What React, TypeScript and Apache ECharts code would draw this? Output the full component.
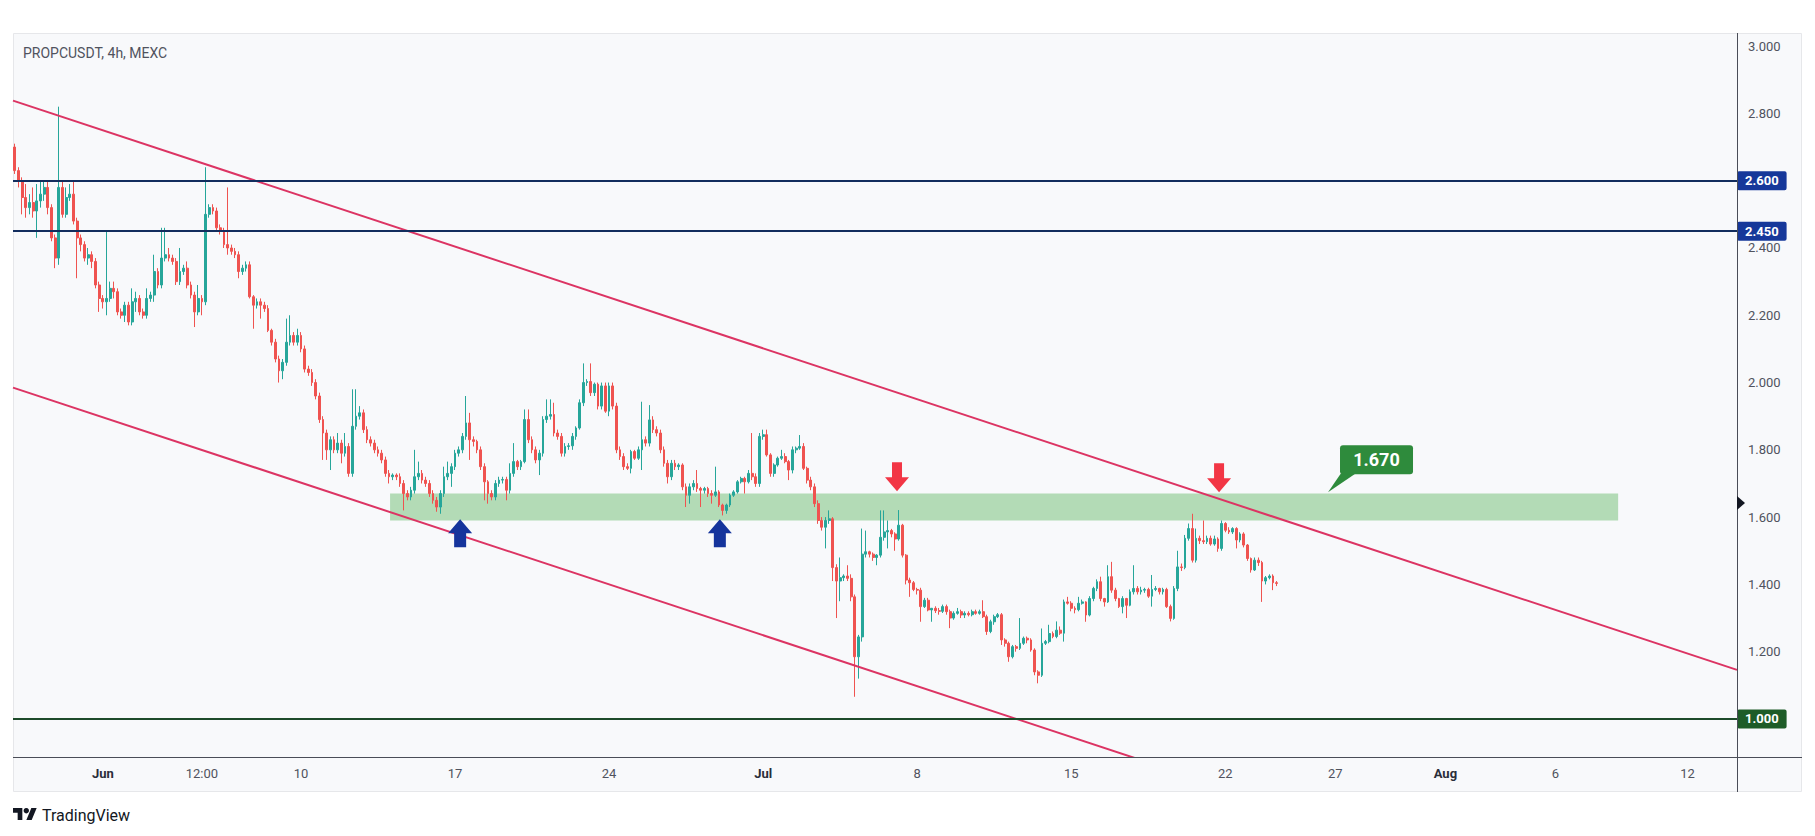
import React, { useEffect, useRef } from 'react';
import * as echarts from 'echarts';

// ---------- data ----------
const startTime = Date.UTC(2024, 4, 28, 0, 0); // first 4h slot: 28 May 2024 00:00
const slotMs = 4 * 3600 * 1000;
const slotCount = 470; // visible 4h slots, incl. empty right margin

// x tick labels: [slot key "MM-DD HH:mm", label]
const xTicks: [string, string][] = [
  ['06-01 00:00', 'Jun'], ['06-05 12:00', '12:00'], ['06-10 00:00', '10'], ['06-17 00:00', '17'],
  ['06-24 00:00', '24'], ['07-01 00:00', 'Jul'], ['07-08 00:00', '8'], ['07-15 00:00', '15'],
  ['07-22 00:00', '22'], ['07-27 00:00', '27'], ['08-01 00:00', 'Aug'], ['08-06 00:00', '6'],
  ['08-12 00:00', '12'],
];
const monthNames = ['Jun', 'Jul', 'Aug'];
const yTicks = [1.0, 1.2, 1.4, 1.6, 1.8, 2.0, 2.2, 2.4, 2.6, 2.8, 3.0];
const yRange = [0.887, 3.039];

// 4h candles [open, close, low, high]
const candles: number[][] = [
  [2.70,2.63,2.62,2.71],[2.63,2.60,2.58,2.64],[2.60,2.55,2.50,2.61],[2.55,2.52,2.49,2.59],[2.52,2.535,2.50,2.56],
  [2.535,2.51,2.49,2.58],[2.51,2.54,2.43,2.59],[2.54,2.56,2.52,2.60],[2.56,2.58,2.54,2.60],[2.58,2.52,2.50,2.60],
  [2.52,2.43,2.42,2.53],[2.43,2.37,2.34,2.44],[2.37,2.58,2.35,2.82],[2.58,2.50,2.49,2.60],[2.50,2.55,2.49,2.58],
  [2.55,2.56,2.54,2.59],[2.56,2.48,2.47,2.60],[2.48,2.43,2.31,2.49],[2.43,2.41,2.39,2.44],[2.41,2.37,2.36,2.42],
  [2.37,2.38,2.35,2.40],[2.38,2.36,2.34,2.39],[2.36,2.29,2.28,2.37],[2.29,2.25,2.21,2.30],[2.25,2.24,2.22,2.26],
  [2.24,2.25,2.20,2.45],[2.25,2.28,2.24,2.30],[2.28,2.27,2.25,2.30],[2.27,2.21,2.20,2.28],[2.21,2.20,2.19,2.22],
  [2.20,2.23,2.18,2.24],[2.23,2.18,2.17,2.24],[2.18,2.24,2.17,2.28],[2.24,2.25,2.21,2.27],[2.25,2.21,2.20,2.26],
  [2.21,2.20,2.19,2.22],[2.20,2.25,2.19,2.28],[2.25,2.26,2.24,2.27],[2.26,2.33,2.24,2.38],[2.33,2.29,2.28,2.34],
  [2.29,2.37,2.28,2.46],[2.37,2.38,2.36,2.46],[2.38,2.37,2.36,2.40],[2.37,2.36,2.35,2.38],[2.36,2.30,2.29,2.37],
  [2.30,2.33,2.29,2.40],[2.33,2.34,2.32,2.35],[2.34,2.29,2.28,2.36],[2.29,2.26,2.25,2.30],[2.26,2.21,2.165,2.27],
  [2.21,2.25,2.20,2.29],[2.25,2.24,2.20,2.26],[2.24,2.50,2.23,2.64],[2.50,2.52,2.49,2.53],[2.52,2.51,2.50,2.53],
  [2.51,2.46,2.45,2.52],[2.46,2.45,2.44,2.47],[2.45,2.41,2.40,2.46],[2.41,2.40,2.38,2.58],[2.40,2.39,2.38,2.41],
  [2.39,2.38,2.37,2.40],[2.38,2.33,2.31,2.39],[2.33,2.34,2.32,2.35],[2.34,2.35,2.33,2.36],[2.35,2.255,2.25,2.36],
  [2.255,2.23,2.16,2.26],[2.23,2.24,2.22,2.25],[2.24,2.23,2.19,2.25],[2.23,2.22,2.21,2.24],[2.22,2.155,2.15,2.23],
  [2.155,2.12,2.11,2.16],[2.12,2.07,2.06,2.13],[2.07,2.035,2.00,2.08],[2.035,2.06,2.01,2.07],[2.06,2.12,2.05,2.19],
  [2.12,2.14,2.11,2.20],[2.14,2.12,2.11,2.15],[2.12,2.14,2.11,2.16],[2.14,2.10,2.09,2.15],[2.10,2.04,2.03,2.11],
  [2.04,2.03,2.02,2.05],[2.03,2.00,1.99,2.04],[2.00,1.96,1.95,2.01],[1.96,1.89,1.88,1.97],[1.89,1.85,1.77,1.90],
  [1.85,1.80,1.77,1.86],[1.80,1.83,1.74,1.84],[1.83,1.80,1.79,1.84],[1.80,1.82,1.79,1.85],[1.82,1.79,1.76,1.83],
  [1.79,1.81,1.78,1.85],[1.81,1.73,1.72,1.82],[1.73,1.87,1.72,1.98],[1.87,1.90,1.86,1.98],[1.90,1.91,1.89,1.93],
  [1.91,1.86,1.85,1.92],[1.86,1.83,1.82,1.87],[1.83,1.82,1.81,1.84],[1.82,1.80,1.79,1.83],[1.80,1.79,1.78,1.81],
  [1.79,1.77,1.76,1.80],[1.77,1.73,1.72,1.78],[1.73,1.72,1.70,1.74],[1.72,1.725,1.71,1.73],[1.725,1.72,1.71,1.73],
  [1.72,1.70,1.69,1.73],[1.70,1.67,1.62,1.71],[1.67,1.66,1.65,1.68],[1.66,1.68,1.65,1.69],[1.68,1.72,1.67,1.80],
  [1.72,1.73,1.71,1.765],[1.73,1.71,1.70,1.74],[1.71,1.70,1.69,1.72],[1.70,1.67,1.66,1.71],[1.67,1.65,1.64,1.68],
  [1.65,1.63,1.616,1.66],[1.63,1.67,1.61,1.68],[1.67,1.72,1.66,1.75],[1.72,1.73,1.71,1.765],[1.73,1.75,1.69,1.76],
  [1.75,1.79,1.74,1.80],[1.79,1.80,1.78,1.81],[1.80,1.84,1.79,1.85],[1.84,1.88,1.83,1.96],[1.88,1.83,1.77,1.91],
  [1.83,1.825,1.81,1.84],[1.825,1.80,1.79,1.83],[1.80,1.75,1.74,1.81],[1.75,1.705,1.65,1.76],[1.705,1.67,1.64,1.71],
  [1.67,1.66,1.65,1.68],[1.66,1.70,1.65,1.71],[1.70,1.71,1.69,1.72],[1.71,1.712,1.70,1.72],[1.712,1.68,1.65,1.72],
  [1.68,1.73,1.67,1.76],[1.73,1.765,1.72,1.82],[1.765,1.75,1.74,1.77],[1.75,1.765,1.74,1.77],[1.765,1.89,1.76,1.92],
  [1.89,1.83,1.82,1.92],[1.83,1.80,1.79,1.84],[1.80,1.77,1.76,1.81],[1.77,1.79,1.725,1.80],[1.79,1.89,1.78,1.90],
  [1.89,1.90,1.88,1.95],[1.90,1.905,1.89,1.95],[1.905,1.85,1.84,1.94],[1.85,1.84,1.83,1.86],[1.84,1.79,1.78,1.85],
  [1.79,1.81,1.78,1.82],[1.81,1.812,1.80,1.82],[1.812,1.84,1.80,1.85],[1.84,1.865,1.83,1.87],[1.865,1.94,1.86,1.95],
  [1.94,2.00,1.93,2.057],[2.00,2.003,1.99,2.01],[2.003,1.97,1.96,2.057],[1.97,1.995,1.96,2.00],[1.995,1.93,1.92,2.00],
  [1.93,1.99,1.92,2.00],[1.99,1.915,1.91,2.00],[1.915,1.99,1.90,2.00],[1.99,1.93,1.92,2.00],[1.93,1.80,1.79,1.94],
  [1.80,1.78,1.77,1.81],[1.78,1.75,1.74,1.79],[1.75,1.745,1.74,1.76],[1.745,1.795,1.73,1.80],[1.795,1.775,1.77,1.80],
  [1.775,1.80,1.77,1.81],[1.80,1.83,1.74,1.943],[1.83,1.82,1.81,1.84],[1.82,1.889,1.81,1.933],[1.889,1.86,1.85,1.90],
  [1.86,1.85,1.84,1.87],[1.85,1.80,1.79,1.86],[1.80,1.76,1.75,1.81],[1.76,1.72,1.70,1.77],[1.72,1.76,1.71,1.77],
  [1.76,1.75,1.74,1.77],[1.75,1.755,1.74,1.76],[1.755,1.69,1.68,1.76],[1.69,1.665,1.63,1.70],[1.665,1.69,1.64,1.70],
  [1.69,1.70,1.68,1.71],[1.70,1.685,1.675,1.74],[1.685,1.68,1.63,1.69],[1.68,1.685,1.67,1.69],[1.685,1.67,1.66,1.69],
  [1.67,1.665,1.64,1.68],[1.665,1.675,1.66,1.75],[1.675,1.636,1.63,1.68],[1.636,1.62,1.605,1.64],[1.62,1.636,1.61,1.64],
  [1.636,1.665,1.63,1.67],[1.665,1.675,1.66,1.68],[1.675,1.705,1.67,1.71],[1.705,1.715,1.70,1.72],[1.715,1.705,1.67,1.72],
  [1.705,1.73,1.70,1.74],[1.73,1.72,1.71,1.85],[1.72,1.70,1.69,1.73],[1.70,1.84,1.69,1.85],[1.84,1.845,1.83,1.86],
  [1.845,1.785,1.78,1.86],[1.785,1.73,1.72,1.79],[1.73,1.755,1.72,1.76],[1.755,1.775,1.75,1.78],[1.775,1.78,1.77,1.80],
  [1.78,1.765,1.76,1.79],[1.765,1.74,1.71,1.77],[1.74,1.80,1.73,1.81],[1.80,1.805,1.79,1.81],[1.805,1.81,1.80,1.844],
  [1.81,1.745,1.74,1.82],[1.745,1.71,1.70,1.75],[1.71,1.69,1.68,1.72],[1.69,1.64,1.63,1.70],[1.64,1.59,1.58,1.65],
  [1.59,1.57,1.56,1.60],[1.57,1.59,1.507,1.60],[1.59,1.595,1.58,1.62],[1.595,1.45,1.41,1.60],[1.45,1.41,1.30,1.46],
  [1.41,1.42,1.35,1.48],[1.42,1.425,1.41,1.43],[1.425,1.418,1.41,1.457],[1.418,1.363,1.35,1.43],[1.363,1.185,1.066,1.37],
  [1.185,1.244,1.12,1.25],[1.244,1.49,1.23,1.566],[1.49,1.497,1.48,1.56],[1.497,1.49,1.48,1.50],[1.49,1.48,1.47,1.495],
  [1.48,1.487,1.457,1.49],[1.487,1.54,1.48,1.62],[1.54,1.556,1.53,1.62],[1.556,1.56,1.507,1.59],[1.56,1.55,1.54,1.565],
  [1.55,1.535,1.50,1.555],[1.535,1.576,1.53,1.621],[1.576,1.487,1.48,1.58],[1.487,1.413,1.40,1.49],[1.413,1.405,1.363,1.42],
  [1.405,1.385,1.38,1.41],[1.385,1.383,1.37,1.39],[1.383,1.334,1.289,1.39],[1.334,1.353,1.33,1.36],[1.353,1.324,1.32,1.36],
  [1.324,1.329,1.289,1.33],[1.329,1.322,1.315,1.335],[1.322,1.320,1.31,1.33],[1.32,1.334,1.315,1.34],[1.334,1.319,1.31,1.34],
  [1.319,1.30,1.27,1.325],[1.30,1.314,1.295,1.32],[1.314,1.319,1.31,1.33],[1.319,1.309,1.30,1.325],[1.309,1.314,1.30,1.32],
  [1.314,1.31,1.305,1.32],[1.31,1.319,1.305,1.325],[1.319,1.314,1.31,1.325],[1.314,1.319,1.31,1.325],[1.319,1.304,1.30,1.353],
  [1.304,1.26,1.25,1.31],[1.26,1.289,1.255,1.295],[1.289,1.304,1.28,1.31],[1.304,1.31,1.30,1.315],[1.31,1.235,1.22,1.315],
  [1.235,1.225,1.215,1.24],[1.225,1.185,1.17,1.23],[1.185,1.215,1.18,1.22],[1.215,1.21,1.20,1.22],[1.21,1.225,1.205,1.30],
  [1.225,1.24,1.22,1.245],[1.24,1.235,1.225,1.245],[1.235,1.205,1.20,1.24],[1.205,1.14,1.13,1.21],[1.14,1.13,1.106,1.145],
  [1.13,1.225,1.125,1.269],[1.225,1.23,1.22,1.235],[1.23,1.254,1.225,1.28],[1.254,1.245,1.24,1.26],[1.245,1.264,1.24,1.29],
  [1.264,1.255,1.25,1.275],[1.255,1.348,1.23,1.355],[1.348,1.344,1.34,1.363],[1.344,1.329,1.32,1.35],[1.329,1.325,1.314,1.335],
  [1.325,1.344,1.32,1.363],[1.344,1.348,1.34,1.355],[1.348,1.309,1.289,1.35],[1.309,1.358,1.305,1.365],[1.358,1.388,1.35,1.393],
  [1.388,1.408,1.38,1.415],[1.408,1.358,1.35,1.423],[1.358,1.348,1.334,1.36],[1.348,1.423,1.345,1.457],[1.423,1.383,1.375,1.467],
  [1.383,1.358,1.35,1.39],[1.358,1.334,1.33,1.36],[1.334,1.358,1.314,1.365],[1.358,1.338,1.30,1.36],[1.338,1.378,1.335,1.385],
  [1.378,1.388,1.37,1.457],[1.388,1.378,1.37,1.395],[1.378,1.383,1.37,1.393],[1.383,1.385,1.375,1.39],[1.385,1.365,1.36,1.39],
  [1.365,1.385,1.334,1.428],[1.385,1.388,1.38,1.395],[1.388,1.378,1.37,1.39],[1.378,1.385,1.37,1.39],[1.385,1.334,1.33,1.39],
  [1.334,1.299,1.29,1.34],[1.299,1.388,1.295,1.395],[1.388,1.452,1.38,1.50],[1.452,1.45,1.44,1.462],[1.45,1.537,1.445,1.547],
  [1.537,1.566,1.53,1.581],[1.566,1.472,1.465,1.61],[1.472,1.537,1.465,1.566],[1.537,1.53,1.52,1.545],[1.53,1.527,1.52,1.59],
  [1.527,1.537,1.52,1.545],[1.537,1.52,1.515,1.545],[1.52,1.535,1.515,1.545],[1.535,1.507,1.497,1.54],[1.507,1.581,1.50,1.59],
  [1.581,1.561,1.555,1.585],[1.561,1.556,1.55,1.57],[1.556,1.566,1.55,1.57],[1.566,1.532,1.507,1.57],[1.532,1.55,1.525,1.555],
  [1.55,1.517,1.51,1.555],[1.517,1.477,1.47,1.52],[1.477,1.443,1.435,1.48],[1.443,1.472,1.44,1.48],[1.472,1.465,1.455,1.48],
  [1.465,1.41,1.348,1.47],[1.41,1.42,1.40,1.425],[1.42,1.425,1.415,1.43],[1.425,1.405,1.383,1.43],[1.405,1.403,1.395,1.41],
];

// drawings, in [slot position, price]
const channelTop = [[0, 2.838], [470, 1.146]];
const channelBottom = [[0, 1.985], [470, 0.293]];
const resistanceLevels = [2.6, 2.45];
const supportLevels = [1.0];
const lastPrice = 1.403;
const zonePrice = [1.59, 1.67];
const zoneSlots = [102.8, 437.6];
const downArrows = [[241.0, 1.677], [328.8, 1.674]];
const upArrows = [[121.9, 1.594], [192.7, 1.594]];
const callout = { at: [358.5, 1.674], text: '1.670' };
const axisMarker = [470, 1.642];

const FONT = 'Roboto, "Liberation Sans", Arial, sans-serif';

function slotKey(i: number) {
  const d = new Date(startTime + i * slotMs);
  const p = (n: number) => String(n).padStart(2, '0');
  return `${p(d.getUTCMonth() + 1)}-${p(d.getUTCDate())} ${p(d.getUTCHours())}:${p(d.getUTCMinutes())}`;
}

echarts.graphic.registerShape(
  'tvlogo',
  echarts.graphic.extendPath('M14 22H7V11H0V4h14v18zM28 22h-8l7.5-18h8L28 22z', {}) as any
);

export default function App() {
  const ref = useRef<HTMLDivElement>(null);
  useEffect(() => {
    const el = ref.current;
    if (!el) return;
    const chart = echarts.init(el, undefined, { renderer: 'svg' });
    const categories = Array.from({ length: slotCount }, (_, i) => slotKey(i));
    const tickMap: Record<string, string> = {};
    xTicks.forEach(([k, l]) => (tickMap[k] = l));

    const levelLabel = (bg: string, fg: string, bold: boolean) => ({
      show: true,
      position: 'end',
      distance: 0,
      formatter: (p: any) => Number(p.value).toFixed(3),
      backgroundColor: bg,
      color: fg,
      fontWeight: bold ? 'bold' : 'normal',
      fontFamily: FONT,
      fontSize: 13,
      lineHeight: 13,
      padding: [3, 8, 3, 8],
      borderRadius: 2,
    });

    const option: any = {
      animation: false,
      backgroundColor: '#ffffff',
      grid: { left: 13, top: 33, width: 1724, height: 724, containLabel: false, outerBoundsMode: 'none' },
      xAxis: [
        {
          type: 'category',
          data: categories,
          boundaryGap: true,
          axisLine: { show: false },
          axisTick: { show: false },
          splitLine: { show: false },
          axisLabel: {
            interval: (_i: number, v: string) => v in tickMap,
            formatter: (v: string) => {
              const l = tickMap[v] || '';
              return monthNames.includes(l) ? `{m|${l}}` : `{n|${l}}`;
            },
            margin: 10,
            rich: {
              m: { fontFamily: FONT, fontSize: 13, fontWeight: 'bold', color: '#2a2e39' },
              n: { fontFamily: FONT, fontSize: 13, color: '#50535e' },
            },
          },
        },
        { type: 'value', min: 0, max: slotCount, show: false },
      ],
      yAxis: {
        type: 'value',
        position: 'right',
        min: yRange[0],
        max: yRange[1],
        splitNumber: 10,
        axisLine: { show: false },
        axisTick: { show: false },
        splitLine: { show: false },
        axisLabel: {
          customValues: yTicks,
          margin: 11,
          color: '#50535e',
          fontFamily: FONT,
          fontSize: 13,
          formatter: (v: number) => (v < 0.95 || v > 3.01 ? '' : v.toFixed(3)),
        },
      },
      series: [
        {
          type: 'candlestick',
          xAxisIndex: 0,
          yAxisIndex: 0,
          data: candles,
          barWidth: '62%',
          z: 2,
          itemStyle: {
            color: '#26a69a',
            color0: '#ef5350',
            borderColor: '#26a69a',
            borderColor0: '#ef5350',
            borderColorDoji: '#26a69a',
            borderWidth: 1,
          },
        },
        {
          type: 'line',
          name: 'channelTop',
          xAxisIndex: 1,
          yAxisIndex: 0,
          data: channelTop,
          symbol: 'none',
          z: 3,
          lineStyle: { color: '#dc3463', width: 2 },
          markLine: {
            symbol: ['none', 'none'],
            silent: true,
            lineStyle: { color: '#122d5e', width: 2, type: 'solid' },
            label: levelLabel('#16389a', '#ffffff', true),
            data: resistanceLevels.map((v) => ({ yAxis: v })),
          },
        },
        {
          type: 'line',
          name: 'channelBottom',
          xAxisIndex: 1,
          yAxisIndex: 0,
          data: channelBottom,
          symbol: 'none',
          z: 3,
          lineStyle: { color: '#dc3463', width: 2 },
          markLine: {
            symbol: ['none', 'none'],
            silent: true,
            data: [
              ...supportLevels.map((v) => ({
                yAxis: v,
                lineStyle: { color: '#1d4b2a', width: 2, type: 'solid' },
                label: levelLabel('#1e5c28', '#ffffff', true),
              })),
              {
                yAxis: lastPrice,
                lineStyle: { width: 0, opacity: 0 },
                label: levelLabel('#d3d6dc', '#131722', false),
              },
            ],
          },
        },
        {
          type: 'line',
          name: 'zone',
          xAxisIndex: 1,
          yAxisIndex: 0,
          data: [],
          z: 5,
          markArea: {
            silent: true,
            itemStyle: { color: 'rgba(76,175,80,0.4)' },
            data: [[{ coord: [zoneSlots[0], zonePrice[1]] }, { coord: [zoneSlots[1], zonePrice[0]] }]],
          },
        },
      ],
    };
    chart.setOption(option);

    const px = (p: number[]) =>
      chart.convertToPixel({ xAxisIndex: 1, yAxisIndex: 0 } as any, p) as unknown as number[];

    const g: any[] = [
      {
        type: 'rect', silent: true, z: -100,
        shape: { x: 13.5, y: 33.5, width: 1788, height: 758 },
        style: { fill: '#f8f9fb', stroke: '#e6e7ea', lineWidth: 1 },
      },
      {
        type: 'line', silent: true, z: 50,
        shape: { x1: 1737.5, y1: 33, x2: 1737.5, y2: 792 },
        style: { stroke: '#4a4d57', lineWidth: 1 },
      },
      {
        type: 'line', silent: true, z: 50,
        shape: { x1: 13, y1: 757.5, x2: 1802, y2: 757.5 },
        style: { stroke: '#4a4d57', lineWidth: 1 },
      },
      {
        type: 'text', z: 50, x: 23, y: 53,
        style: { text: 'PROPCUSDT, 4h, MEXC', fill: '#50535e', fontFamily: FONT, fontSize: 14, verticalAlign: 'middle', align: 'left' },
      },
      { type: 'tvlogo', x: 13, y: 805.3, scaleX: 0.667, scaleY: 0.667, z: 50, style: { fill: '#131722' } },
      { type: 'circle', z: 50, shape: { cx: 26.3, cy: 810.7, r: 2.7 }, style: { fill: '#131722' } },
      {
        type: 'text', z: 50, x: 42, y: 815,
        style: { text: 'TradingView', fill: '#131722', fontFamily: FONT, fontSize: 16, verticalAlign: 'middle', align: 'left' },
      },
    ];

    downArrows.forEach((a) => {
      const [x, y] = px(a);
      g.push({
        type: 'polygon', z: 60,
        shape: { points: [[x - 5, y - 29], [x + 5, y - 29], [x + 5, y - 14], [x + 12, y - 14], [x, y], [x - 12, y - 14], [x - 5, y - 14]] },
        style: { fill: '#f23645' },
      });
    });
    upArrows.forEach((a) => {
      const [x, y] = px(a);
      g.push({
        type: 'polygon', z: 60,
        shape: { points: [[x - 6, y + 28], [x + 6, y + 28], [x + 6, y + 14], [x + 12, y + 14], [x, y], [x - 12, y + 14], [x - 6, y + 14]] },
        style: { fill: '#15349c' },
      });
    });
    {
      const [x, y] = px(callout.at);
      g.push({
        type: 'polygon', z: 60,
        shape: { points: [[x, y], [x + 13, y - 19], [x + 28, y - 19]] },
        style: { fill: '#2e8b3c' },
      });
      g.push({
        type: 'rect', z: 61,
        shape: { x: x + 12, y: y - 47, width: 73, height: 29, r: 3 },
        style: { fill: '#2e8b3c' },
      });
      g.push({
        type: 'text', z: 62, x: x + 48.5, y: y - 32.5,
        style: { text: callout.text, fill: '#ffffff', fontFamily: FONT, fontSize: 18, fontWeight: 'bold', align: 'center', verticalAlign: 'middle' },
      });
    }
    {
      const [x, y] = px(axisMarker);
      g.push({
        type: 'polygon', z: 60,
        shape: { points: [[x, y - 7], [x + 8, y], [x, y + 7]] },
        style: { fill: '#131722' },
      });
    }
    chart.setOption({ graphic: g });

    return () => chart.dispose();
  }, []);
  return <div ref={ref} style={{ position: 'absolute', left: 0, top: 0, width: 1815, height: 836 }} />;
}
